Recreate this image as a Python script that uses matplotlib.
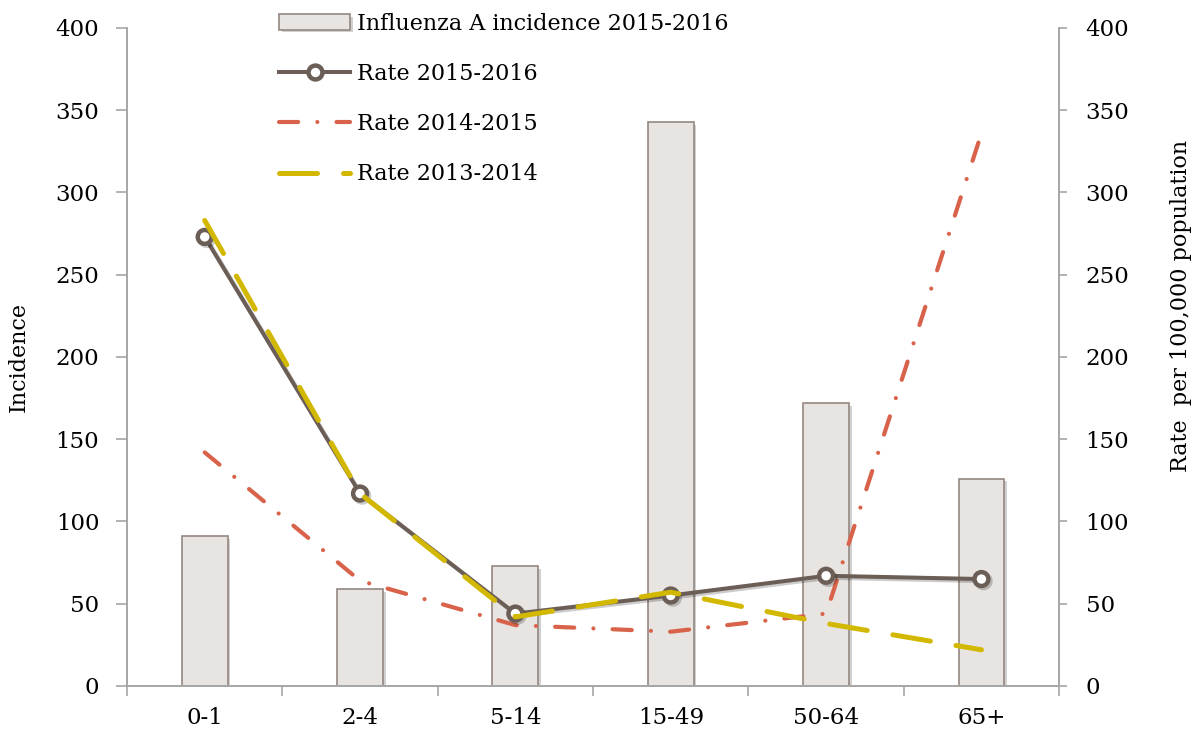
import matplotlib
matplotlib.use('Agg')
from matplotlib import pyplot as plt
from matplotlib.lines import Line2D
import matplotlib.patheffects as pe
import numpy as np

plt.rcParams['font.family'] = ['DejaVu Serif']

age_groups = ['0-1', '2-4', '5-14', '15-49', '50-64', '65+']
incidence_2015_16 = [91, 59, 73, 343, 172, 126]
rate_2015_16 = [273, 117, 44, 55, 67, 65]
rate_2014_15 = [142, 64, 37, 33, 44, 336]
rate_2013_14 = [283, 117, 42, 57, 38, 22]

c_bar = '#E7E4E1'
c_edge = '#958880'
c_brown = '#6B5E56'
c_red = '#D8634A'
c_yellow = '#D2B800'
c_axis = '#A6A6A6'

fig = plt.figure(figsize=(11.95, 7.29), dpi=100)
ax = fig.add_axes([0.1063, 0.059, 0.78, 0.9026])
ax2 = ax.twinx()

x = np.arange(len(age_groups))
bars = ax.bar(x, incidence_2015_16, width=0.295, color=c_bar, edgecolor=c_edge,
              linewidth=1.2, zorder=2)
for b in bars:
    b.set_path_effects([pe.SimplePatchShadow(offset=(2, -2), alpha=0.25), pe.Normal()])

red_style = dict(color=c_red, lw=3.0, linestyle=(0, (4.6, 4.6, 0.01, 4.6)),
                 dash_capstyle='round', solid_capstyle='round')
yel_style = dict(color=c_yellow, lw=3.6, linestyle=(0, (7.6, 5.2)),
                 dash_capstyle='round', solid_capstyle='round')
brown_style = dict(color=c_brown, lw=2.9, marker='o', ms=10, mfc='white',
                   mec=c_brown, mew=3.2)

ax2.plot(x, rate_2014_15, zorder=3, **red_style)
ax2.plot(x, rate_2015_16, zorder=4,
         path_effects=[pe.SimpleLineShadow(offset=(1.5, -1.5), alpha=0.2), pe.Normal()],
         **brown_style)
ax2.plot(x, rate_2013_14, zorder=5, **yel_style)

for a in (ax, ax2):
    a.set_ylim(0, 400)
    a.set_yticks(np.arange(0, 401, 50))
    for s in a.spines.values():
        s.set_color(c_axis)
        s.set_linewidth(1.2)
    a.spines['top'].set_visible(False)
ax.set_xlim(-0.5, 5.5)
ax.set_xticks(x)
ax.set_xticklabels(age_groups)
ax.set_xticks(np.arange(-0.5, 6, 1), minor=True)
ax.tick_params(axis='x', which='major', length=0, pad=15, labelsize=16.5)
ax.tick_params(axis='x', which='minor', length=7, width=1.2, color=c_axis)
ax.tick_params(axis='y', length=8, width=1.2, color=c_axis, pad=12, labelsize=16.5)
ax2.tick_params(axis='y', length=6, width=1.2, color=c_axis, pad=13, labelsize=16.5)
ax.set_ylabel('Incidence', fontsize=16)
ax.yaxis.set_label_coords(-0.104, 0.5)
ax2.set_ylabel('Rate  per 100,000 population', fontsize=16)
ax2.yaxis.set_label_coords(1.119, 0.578)

handles = [bars, Line2D([], [], **brown_style), Line2D([], [], **red_style),
           Line2D([], [], **yel_style)]
labels = ['Influenza A incidence 2015-2016', 'Rate 2015-2016', 'Rate 2014-2015', 'Rate 2013-2014']
fig.legend(handles, labels, loc='upper left', bbox_to_anchor=(0.2167, 1.01), frameon=False,
           fontsize=16, handlelength=3.2, handletextpad=0.3, labelspacing=1.27)

plt.savefig('out.png', dpi=100)
